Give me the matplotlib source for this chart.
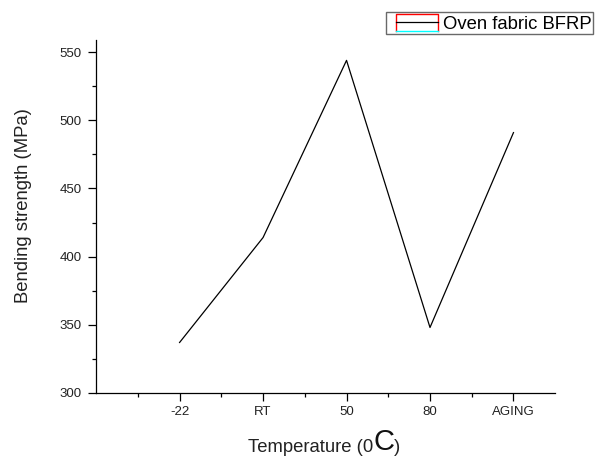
import matplotlib
matplotlib.use("Agg")
import matplotlib.pyplot as plt
from matplotlib.lines import Line2D
from matplotlib.patches import Rectangle
from matplotlib.legend_handler import HandlerBase

categories = ["-22", "RT", "50", "80", "AGING"]
strength = [337, 414, 544, 348, 491]
series_name = "Oven fabric BFRP"

plt.rcParams['font.family'] = ['Liberation Sans', 'DejaVu Sans']


class BoxLineHandler(HandlerBase):
    # red box with a cyan bottom edge and the black series line through it
    def create_artists(self, legend, orig_handle, xdescent, ydescent,
                       width, height, fontsize, trans):
        x0 = -xdescent + 0.18 * width
        x1 = -xdescent + width
        y0 = -ydescent
        y1 = -ydescent + height
        box = Line2D([x0, x0, x1, x1], [y0, y1, y1, y0], color='red', lw=1.0, transform=trans)
        bottom = Line2D([x0, x1], [y0, y0], color='cyan', lw=1.0, transform=trans)
        mid = Line2D([x0, x1], [(y0 + y1) / 2] * 2, color='black', lw=0.9, transform=trans)
        return [box, bottom, mid]


fig = plt.figure(figsize=(5.97, 4.59), dpi=100)
ax = fig.add_axes([0.161, 0.144, 0.769, 0.769])

x = list(range(1, len(categories) + 1))
line, = ax.plot(x, strength, color='black', lw=0.9)

ax.set_xlim(0, 5.5)
ax.set_ylim(300, 559)
ax.set_xticks(x)
ax.set_xticklabels(categories)
ax.set_xticks([v + 0.5 for v in range(0, 5)], minor=True)
ax.set_yticks([300, 350, 400, 450, 500, 550])
ax.set_yticks([325, 375, 425, 475, 525], minor=True)

for s in ['top', 'right']:
    ax.spines[s].set_visible(False)
for s in ['left', 'bottom']:
    ax.spines[s].set_linewidth(0.9)

ax.tick_params(axis='both', which='major', length=6, width=0.9, labelsize=9.5,
               labelcolor='#222222')
ax.tick_params(axis='y', which='major', pad=4.5)
ax.tick_params(axis='x', which='major', pad=3.5)
ax.tick_params(axis='both', which='minor', length=3, width=0.9)

ax.set_ylabel("Bending strength (MPa)", fontsize=13.3, color='#222222')
ax.yaxis.set_label_coords(-0.139, 0.53)

# x label with a larger "C"
t1 = fig.text(0.415, 0.015, "Temperature (0", fontsize=13.3, color='#222222',
              ha='left', va='baseline')
t2 = ax.annotate("C", xy=(1, 0), xycoords=t1, fontsize=21, color='#111111',
                 ha='left', va='bottom', annotation_clip=False)
t3 = ax.annotate(")", xy=(1, 0), xycoords=t2, fontsize=13.3, color='#222222',
                 ha='left', va='bottom', annotation_clip=False)

leg = fig.legend([line], [series_name], loc='upper right',
                 handler_map={line: BoxLineHandler()},
                 bbox_to_anchor=(0.994, 0.973), fontsize=13.3, frameon=True,
                 fancybox=False, borderpad=0.08, handlelength=2.75, handleheight=1.05,
                 handletextpad=0.28, borderaxespad=0)
leg.get_frame().set_edgecolor('#444444')
leg.get_frame().set_linewidth(1.0)

fig.savefig("out.png", dpi=100)
